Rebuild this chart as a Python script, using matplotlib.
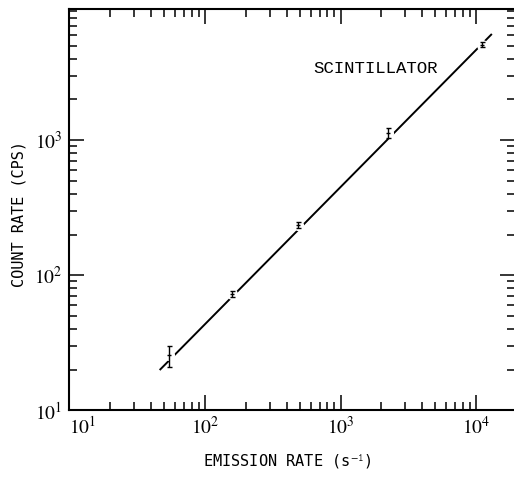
import numpy as np
import matplotlib
matplotlib.use("Agg")
import matplotlib.pyplot as plt
from matplotlib.ticker import FuncFormatter, LogLocator, NullFormatter

# measured points (emission rate, count rate, error bar low/high)
emission = [54, 158, 489, 2255, 10990]
count = [25.7, 72.6, 236, 1133, 5080]
err_lo = [20.8, 69.0, 223, 1040, 4890]
err_hi = [30.0, 76.6, 249, 1233, 5280]

# fitted line end points
fit_x = [46.8, 12900]
fit_y = [20.1, 6030]

label_text = "SCINTILLATOR"

plt.rcParams['mathtext.fontset'] = 'stix'

fig = plt.figure(figsize=(5.14, 4.78), dpi=100)
ax = fig.add_axes([0.1352, 0.1416, 0.8677, 0.8395])

ax.plot(fit_x, fit_y, color='black', lw=1.4, zorder=2)
# white gaps where the line meets each point
ax.plot(emission, count, 'o', ms=8, color='white', mec='none', zorder=3)

yerr = [np.array(count) - np.array(err_lo), np.array(err_hi) - np.array(count)]
ax.errorbar(emission, count, yerr=yerr, fmt='none', ecolor='black',
            elinewidth=1.0, capsize=1.8, capthick=1.0, zorder=4)
ax.plot(emission, count, '_', ms=3, color='black', mew=1.0, zorder=4)

ax.set_xscale('log')
ax.set_yscale('log')
ax.set_xlim(10, 10**4.29)
ax.set_ylim(10, 10**3.97)

fmt = FuncFormatter(lambda v, p: r'$10^{%d}$' % int(round(np.log10(v))))
for axis in (ax.xaxis, ax.yaxis):
    axis.set_major_locator(LogLocator(base=10, numticks=10))
    axis.set_minor_locator(LogLocator(base=10, subs=np.arange(2, 10), numticks=20))
    axis.set_major_formatter(fmt)
    axis.set_minor_formatter(NullFormatter())

ax.tick_params(which='both', direction='in', top=True, right=True,
               width=1.1, labelsize=14)
ax.tick_params(which='major', length=11)
ax.tick_params(which='minor', length=5.5)
ax.tick_params(axis='x', pad=4)
ax.tick_params(axis='y', pad=5)

for s in ax.spines.values():
    s.set_linewidth(1.5)

ax.set_xlabel(r'EMISSION RATE (s$^{\mathtt{-1}}$)', family='DejaVu Sans Mono', fontsize=11)
ax.set_ylabel('COUNT RATE (CPS)', family='DejaVu Sans Mono', fontsize=11)
ax.xaxis.set_label_coords(0.489, -0.106)
ax.yaxis.set_label_coords(-0.097, 0.49)

ax.text(0.687, 0.853, label_text, transform=ax.transAxes, ha='center', va='center',
        family='Liberation Mono', fontsize=12.5)

fig.canvas.draw()
# keep the 10^1 x tick label clear of the corner
for tick in ax.xaxis.get_major_ticks():
    if np.isclose(tick.get_loc(), 10):
        tick.label1.set_horizontalalignment('left')

fig.savefig('out.png', dpi=100)
